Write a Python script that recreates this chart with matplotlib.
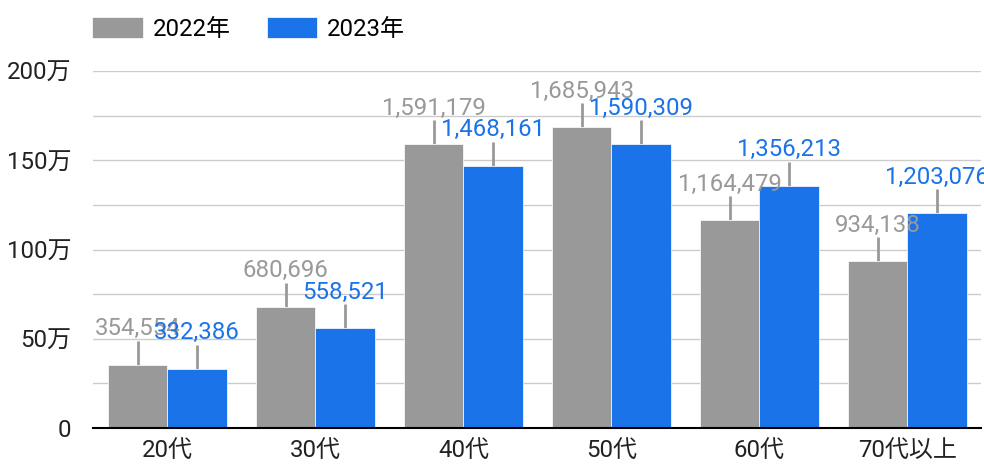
import matplotlib
matplotlib.use("Agg")
import matplotlib.pyplot as plt
import numpy as np

plt.rcParams['font.family'] = ['Roboto', 'Noto Sans CJK JP', 'DejaVu Sans']

categories = ['20代', '30代', '40代', '50代', '60代', '70代以上']
series_names = ['2022年', '2023年']
values_2022 = [354554, 680696, 1591179, 1685943, 1164479, 934138]
values_2023 = [332386, 558521, 1468161, 1590309, 1356213, 1203076]
err_2022 = [134000, 134000, 134000, 134000, 134000, 134000]
err_2023 = [134000, 134000, 134000, 134000, 134000, 134000]
yticks = [0, 500000, 1000000, 1500000, 2000000]
ytick_labels = ['0', '50万', '100万', '150万', '200万']

c_gray = '#999999'
c_blue = '#1a73e8'
fs = 17.3

fig = plt.figure(figsize=(9.84, 4.65), dpi=100)
ax = fig.add_axes([0.095, 0.0796, 0.9024, 0.7674])

x = np.arange(len(categories))
w = 0.4
b1 = ax.bar(x - w/2, values_2022, w, color=c_gray, edgecolor='white', linewidth=0.5,
            label=series_names[0], zorder=3)
b2 = ax.bar(x + w/2, values_2023, w, color=c_blue, edgecolor='white', linewidth=0.5,
            label=series_names[1], zorder=3)

ax.errorbar(x - w/2, values_2022, yerr=[np.zeros(len(x)), err_2022], fmt='none',
            ecolor=c_gray, elinewidth=2, capsize=0, zorder=2)
ax.errorbar(x + w/2, values_2023, yerr=[np.zeros(len(x)), err_2023], fmt='none',
            ecolor=c_gray, elinewidth=2, capsize=0, zorder=2)

for xs, vals, errs, col in [(x - w/2, values_2022, err_2022, c_gray),
                            (x + w/2, values_2023, err_2023, c_blue)]:
    for xi, v, e in zip(xs, vals, errs):
        ax.annotate(f'{v:,}', (xi, v + e), xytext=(0, 0.5), textcoords='offset points',
                    ha='center', va='bottom', color=col, fontsize=fs, zorder=5,
                    annotation_clip=False)

ax.set_xlim(-0.5, len(categories) - 0.5)
ax.set_ylim(0, 2000000)
ax.set_yticks(yticks)
ax.set_yticklabels(ytick_labels)
ax.set_yticks([250000, 750000, 1250000, 1750000], minor=True)
ax.grid(axis='y', which='both', color='#cccccc', linewidth=1, zorder=0)
ax.set_xticks(x)
ax.set_xticklabels(categories)
ax.tick_params(axis='y', which='both', length=0, pad=16, labelsize=fs, colors='#222222')
ax.tick_params(axis='x', length=0, pad=8, labelsize=fs, colors='#222222')
for s in ['top', 'right', 'left']:
    ax.spines[s].set_visible(False)
ax.spines['bottom'].set_color('black')
ax.spines['bottom'].set_linewidth(1.5)
ax.spines['bottom'].set_zorder(4)

fig.legend(handles=[b1, b2], labels=series_names, loc='upper left',
           bbox_to_anchor=(0.072, 1.01), ncol=2, frameon=False, fontsize=fs,
           handlelength=2.1, handleheight=1.0, handletextpad=0.4, columnspacing=1.5)

fig.savefig('out.png', dpi=100)
